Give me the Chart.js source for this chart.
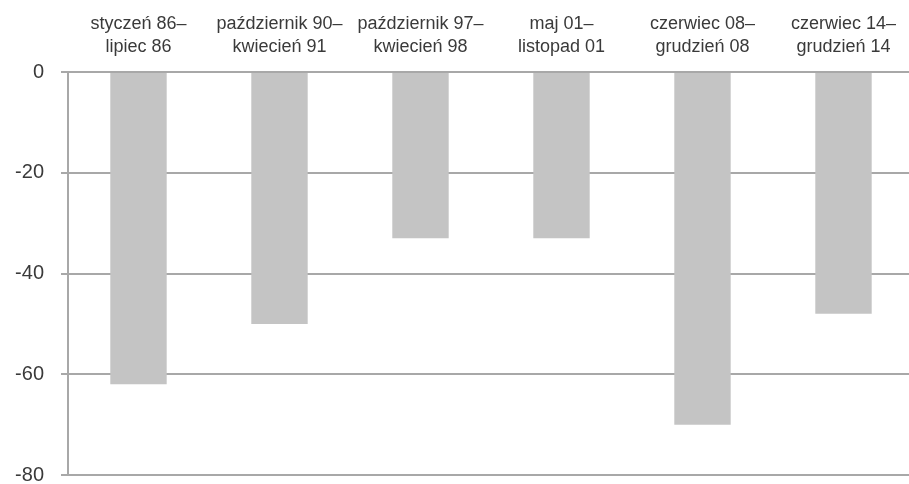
<!DOCTYPE html>
<html>
<head>
<meta charset="utf-8">
<script src="https://cdn.jsdelivr.net/npm/chart.js@4/dist/chart.umd.min.js"></script>
<style>
html,body{margin:0;padding:0;background:#fff;overflow:hidden;width:909px;height:484px;}
canvas{display:block;}
</style>
</head>
<body>
<canvas id="c" width="914" height="504"></canvas>
<script>
const categories = [
  ["styczeń 86–", "lipiec 86"],
  ["październik 90–", "kwiecień 91"],
  ["październik 97–", "kwiecień 98"],
  ["maj 01–", "listopad 01"],
  ["czerwiec 08–", "grudzień 08"],
  ["czerwiec 14–", "grudzień 14"]
];
const values = [-62, -50, -33, -33, -70, -48];
const yTicks = [0, -20, -40, -60, -80];

new Chart(document.getElementById('c'), {
  type: 'bar',
  data: {
    labels: categories,
    datasets: [{
      data: values,
      backgroundColor: '#c4c4c4',
      borderWidth: 0,
      barPercentage: 0.4,
      categoryPercentage: 1.0
    }]
  },
  options: {
    responsive: false,
    animation: false,
    layout: { padding: { left: 0, right: 0, top: 0, bottom: 9 } },
    plugins: { legend: { display: false }, tooltip: { enabled: false } },
    scales: {
      x: {
        position: 'top',
        grid: { display: false, drawTicks: false },
        border: { display: false },
        ticks: {
          color: '#3a3a3a',
          font: { family: "'Liberation Sans', Arial, sans-serif", size: 18, lineHeight: 1.28 },
          padding: 13,
          maxRotation: 0,
          autoSkip: false
        },
        afterFit: s => { s.height = 72; }
      },
      y: {
        min: Math.min(...yTicks),
        max: Math.max(...yTicks),
        afterBuildTicks: s => { s.ticks = yTicks.map(v => ({ value: v })); },
        grid: { color: '#a8a8a8', lineWidth: 2, tickLength: 7 },
        border: { display: true, color: '#a8a8a8', width: 2 },
        ticks: {
          color: '#3a3a3a',
          font: { family: "'Liberation Sans', Arial, sans-serif", size: 20 },
          padding: 17
        },
        afterFit: s => { s.width = 68; }
      }
    }
  }
});
</script>
</body>
</html>
